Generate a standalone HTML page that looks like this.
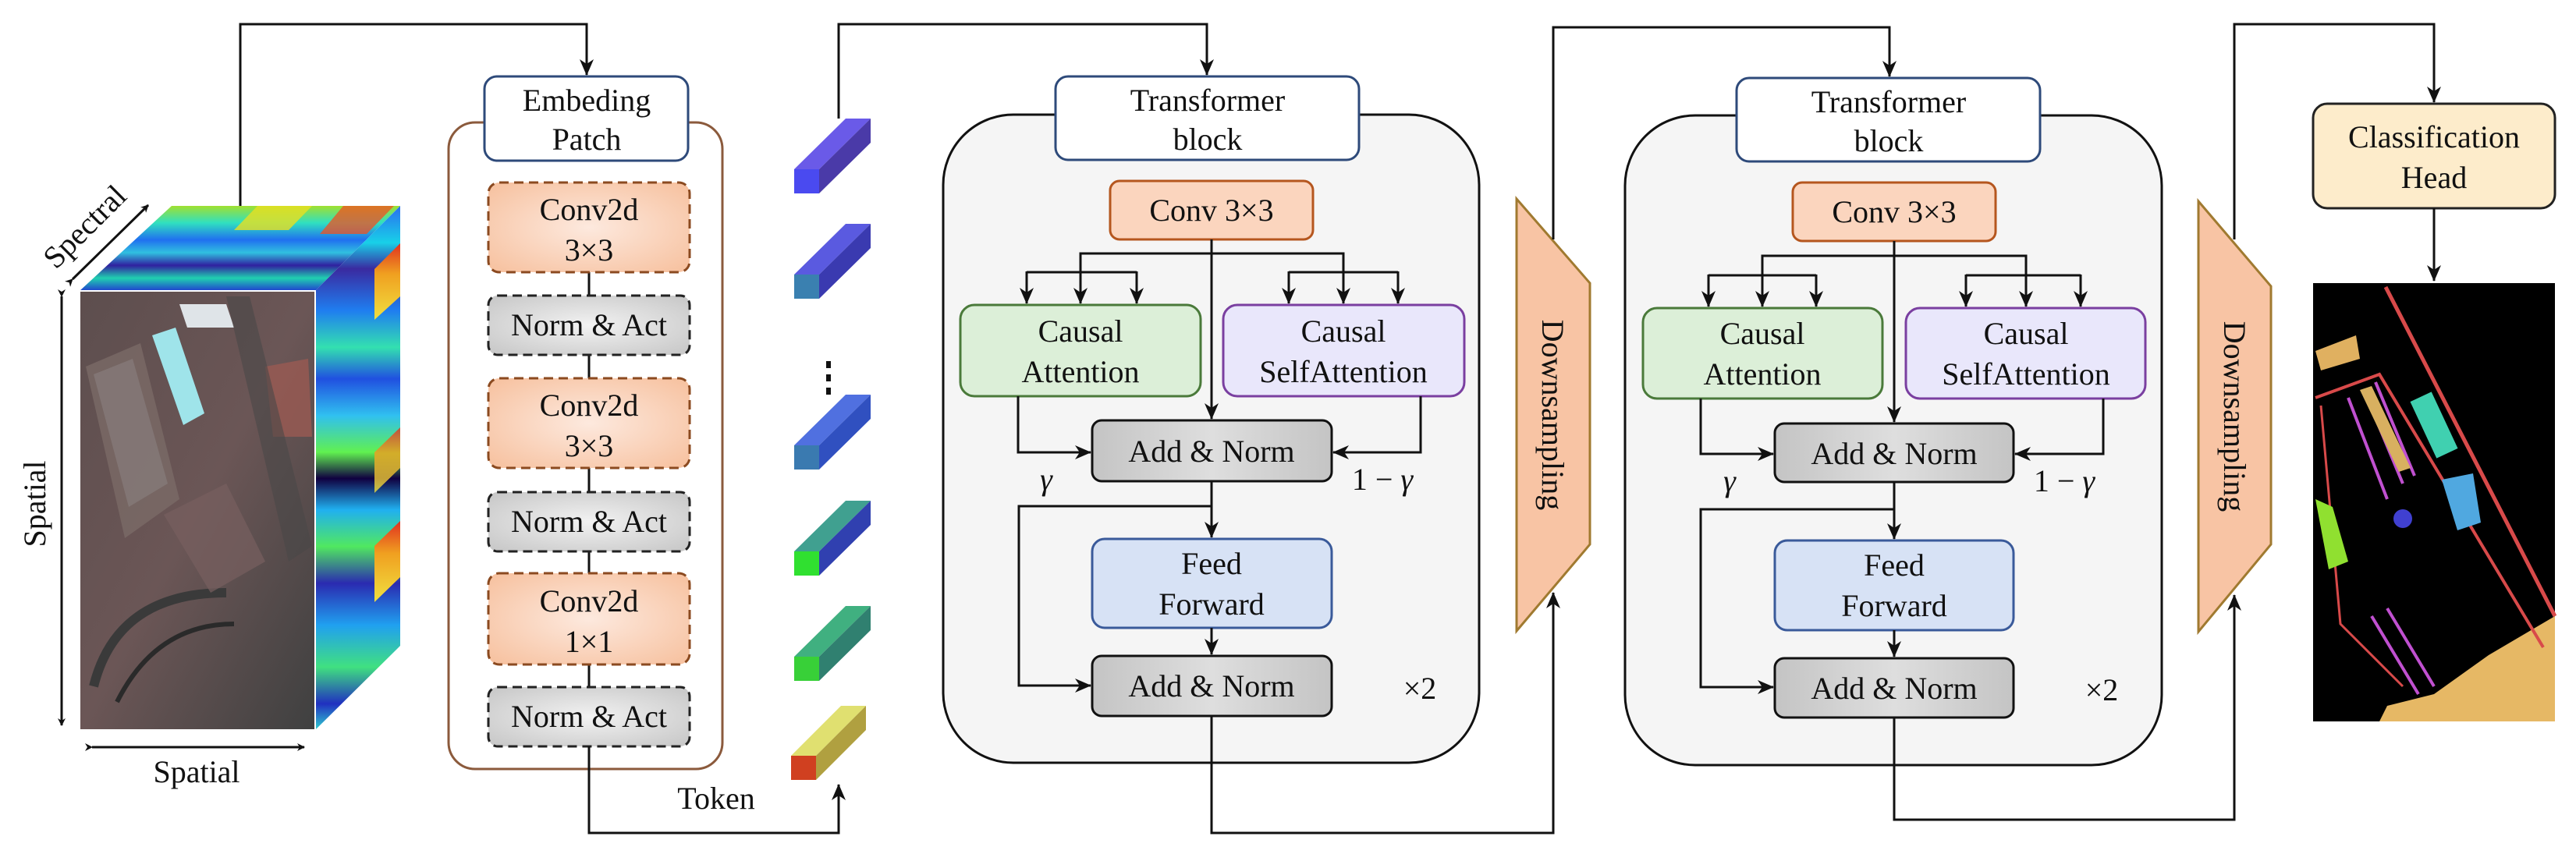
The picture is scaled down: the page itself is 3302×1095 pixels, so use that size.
<!DOCTYPE html>
<html><head><meta charset="utf-8"><style>
html,body{margin:0;padding:0;background:#fff;}
svg{display:block;font-family:"Liberation Serif","Times New Roman",Times,"DejaVu Serif",serif;}
svg text{font-family:"Liberation Serif","Times New Roman",Times,"DejaVu Serif",serif !important;fill:#111;}
</style></head><body>
<svg width="3302" height="1095" viewBox="0 0 3302 1095" xmlns="http://www.w3.org/2000/svg" font-family="'Liberation Serif','Times New Roman',Times,'DejaVu Serif',serif">
<defs>
<marker id="ar" markerWidth="10" markerHeight="10" refX="9" refY="5" orient="auto" markerUnits="userSpaceOnUse" viewBox="0 0 10 10">
<path d="M0,0 L10,5 L0,10 L3,5 z" fill="#111"/></marker>
<marker id="ar2" markerWidth="22" markerHeight="22" refX="20" refY="11" orient="auto" markerUnits="userSpaceOnUse" viewBox="0 0 22 22">
<path d="M0,2 L21,11 L0,20 L6,11 z" fill="#111"/></marker>
<radialGradient id="peach" cx="50%" cy="50%" r="65%"><stop offset="0" stop-color="#fde9de"/><stop offset="1" stop-color="#f7c3a2"/></radialGradient>
<radialGradient id="grayd" cx="50%" cy="50%" r="65%"><stop offset="0" stop-color="#f2f2f2"/><stop offset="1" stop-color="#c9c9c9"/></radialGradient>
<linearGradient id="addn" x1="0" y1="0" x2="1" y2="0"><stop offset="0" stop-color="#c4c4c4"/><stop offset="0.5" stop-color="#dedede"/><stop offset="1" stop-color="#c4c4c4"/></linearGradient>
<linearGradient id="jetR" x1="0" y1="0" x2="0" y2="1">
<stop offset="0" stop-color="#2a6ef0"/><stop offset="0.07" stop-color="#18d0e8"/><stop offset="0.12" stop-color="#3a2aa0"/><stop offset="0.2" stop-color="#1f7ef0"/><stop offset="0.27" stop-color="#33e0b0"/><stop offset="0.33" stop-color="#2050e0"/><stop offset="0.4" stop-color="#30c0f0"/><stop offset="0.47" stop-color="#60f050"/><stop offset="0.52" stop-color="#100040"/><stop offset="0.58" stop-color="#20b0f0"/><stop offset="0.65" stop-color="#50e860"/><stop offset="0.72" stop-color="#2a2ab0"/><stop offset="0.8" stop-color="#20a0f0"/><stop offset="0.88" stop-color="#40e080"/><stop offset="0.95" stop-color="#2030c0"/><stop offset="1" stop-color="#30d0d0"/></linearGradient>
<linearGradient id="jetT" x1="0" y1="0" x2="0" y2="1">
<stop offset="0" stop-color="#a0e030"/><stop offset="0.2" stop-color="#30e0c0"/><stop offset="0.4" stop-color="#2070f0"/><stop offset="0.55" stop-color="#30c0e0"/><stop offset="0.7" stop-color="#3020a0"/><stop offset="0.85" stop-color="#20d0b0"/><stop offset="1" stop-color="#2040d0"/></linearGradient>
<linearGradient id="hot" x1="0" y1="0" x2="0" y2="1"><stop offset="0" stop-color="#e03020"/><stop offset="0.4" stop-color="#f0a020"/><stop offset="1" stop-color="#f0e040"/></linearGradient>
<linearGradient id="photo" x1="0" y1="0" x2="1" y2="1"><stop offset="0" stop-color="#5d4e4e"/><stop offset="0.5" stop-color="#6b5656"/><stop offset="1" stop-color="#3f4040"/></linearGradient>
</defs>

<polygon points="102,373 404,373 513,264 220,264" fill="url(#jetT)"/>
<polygon points="330,264 400,264 370,295 300,295" fill="#e8e020" opacity="0.8"/>
<polygon points="440,264 505,264 470,300 410,300" fill="#f05020" opacity="0.75"/>
<polygon points="404,373 513,264 513,828 404,936" fill="url(#jetR)"/>
<polygon points="480,345 513,312 513,380 480,410" fill="url(#hot)"/>
<polygon points="480,580 513,548 513,600 480,632" fill="url(#hot)" opacity="0.8"/>
<polygon points="480,700 513,668 513,740 480,772" fill="url(#hot)"/>
<rect x="102" y="373" width="302" height="563" fill="url(#photo)"/>
<polygon points="110,470 180,440 230,640 160,690" fill="#7a6a66" opacity="0.8"/>
<polygon points="120,480 170,460 215,620 165,650" fill="#8a8080" opacity="0.6"/>
<polygon points="195,430 225,420 262,530 235,545" fill="#9fe4ea"/>
<polygon points="340,470 395,460 400,560 350,560" fill="#9a5a52" opacity="0.8"/>
<polygon points="230,390 290,390 300,420 240,420" fill="#dfe4e8"/>
<path d="M120,880 Q150,760 290,760" stroke="#3a3a3a" stroke-width="12" fill="none"/>
<path d="M150,900 Q200,800 300,800" stroke="#2a2a2a" stroke-width="6" fill="none"/>
<polygon points="210,660 290,620 340,720 270,760" fill="#786060" opacity="0.7"/>
<polygon points="290,380 320,380 400,700 370,720" fill="#4a4848" opacity="0.6"/>
<rect x="102" y="373" width="302" height="563" fill="none" stroke="#fff" stroke-width="2"/>

<line x1="79" y1="380" x2="79" y2="930" stroke="#111" stroke-width="3" marker-start="url(#ar)" marker-end="url(#ar)"/>
<text x="0" y="0" font-size="40" text-anchor="middle" transform="translate(58,646) rotate(-90)">Spatial</text>
<line x1="118" y1="958" x2="390" y2="958" stroke="#111" stroke-width="3" marker-start="url(#ar)" marker-end="url(#ar)"/>
<text x="252" y="1003" font-size="40" text-anchor="middle">Spatial</text>
<line x1="93" y1="358" x2="190" y2="263" stroke="#111" stroke-width="3" marker-start="url(#ar)" marker-end="url(#ar)"/>
<text x="0" y="0" font-size="40" text-anchor="middle" transform="translate(118,300) rotate(-45)">Spectral</text>

<polyline points="308,264 308,31 752,31 752,96" fill="none" stroke="#111" stroke-width="3" marker-end="url(#ar2)"/>

<rect x="575" y="157" width="351" height="829" rx="34" fill="#fff" stroke="#8b5a3c" stroke-width="3"/>
<rect x="621" y="98" width="261" height="108" rx="16" fill="#fff" stroke="#2e4a7a" stroke-width="3"/>
<text x="752" y="142" font-size="40" text-anchor="middle">Embeding</text>
<text x="752" y="192" font-size="40" text-anchor="middle">Patch</text>
<line x1="755" y1="349" x2="755" y2="881" stroke="#111" stroke-width="3"/>
<rect x="626" y="234" width="258" height="115" rx="14" fill="url(#peach)" stroke="#8b4a20" stroke-width="3" stroke-dasharray="12,7"/>
<text x="755" y="282" font-size="40" text-anchor="middle">Conv2d</text>
<text x="755" y="334" font-size="40" text-anchor="middle">3×3</text>
<rect x="626" y="379" width="258" height="76" rx="12" fill="url(#grayd)" stroke="#222" stroke-width="3" stroke-dasharray="12,7"/>
<text x="755" y="430" font-size="40" text-anchor="middle">Norm &amp; Act</text>
<rect x="626" y="485" width="258" height="115" rx="14" fill="url(#peach)" stroke="#8b4a20" stroke-width="3" stroke-dasharray="12,7"/>
<text x="755" y="533" font-size="40" text-anchor="middle">Conv2d</text>
<text x="755" y="585" font-size="40" text-anchor="middle">3×3</text>
<rect x="626" y="631" width="258" height="76" rx="12" fill="url(#grayd)" stroke="#222" stroke-width="3" stroke-dasharray="12,7"/>
<text x="755" y="682" font-size="40" text-anchor="middle">Norm &amp; Act</text>
<rect x="626" y="735" width="258" height="117" rx="14" fill="url(#peach)" stroke="#8b4a20" stroke-width="3" stroke-dasharray="12,7"/>
<text x="755" y="784" font-size="40" text-anchor="middle">Conv2d</text>
<text x="755" y="836" font-size="40" text-anchor="middle">1×1</text>
<rect x="626" y="881" width="258" height="76" rx="12" fill="url(#grayd)" stroke="#222" stroke-width="3" stroke-dasharray="12,7"/>
<text x="755" y="932" font-size="40" text-anchor="middle">Norm &amp; Act</text>
<polyline points="755,957 755,1068 1075,1068 1075,1006" fill="none" stroke="#111" stroke-width="3" marker-end="url(#ar2)"/>
<text x="918" y="1037" font-size="40" text-anchor="middle">Token</text>

<g>
<polygon points="1018,217 1050,217 1116,152 1084,152" fill="#6a5ae8"/><polygon points="1050,217 1116,152 1116,183 1050,248" fill="#4a3aa8"/><rect x="1018" y="217" width="32" height="31" fill="#4a4af0"/>
<polygon points="1018,352 1050,352 1116,287 1084,287" fill="#5a5ae0"/><polygon points="1050,352 1116,287 1116,318 1050,383" fill="#3a3ab0"/><rect x="1018" y="352" width="32" height="31" fill="#3a80b0"/>
<polygon points="1018,571 1050,571 1116,506 1084,506" fill="#5070e0"/><polygon points="1050,571 1116,506 1116,537 1050,602" fill="#3050c0"/><rect x="1018" y="571" width="32" height="31" fill="#3a7ab0"/>
<polygon points="1018,707 1050,707 1116,642 1084,642" fill="#40a090"/><polygon points="1050,707 1116,642 1116,673 1050,738" fill="#3040b0"/><rect x="1018" y="707" width="32" height="31" fill="#30e030"/>
<polygon points="1018,842 1050,842 1116,777 1084,777" fill="#40b080"/><polygon points="1050,842 1116,777 1116,808 1050,873" fill="#308070"/><rect x="1018" y="842" width="32" height="31" fill="#38d038"/>
<polygon points="1014,969 1046,969 1110,905 1078,905" fill="#e0e070"/><polygon points="1046,969 1110,905 1110,936 1046,1000" fill="#b0a040"/><rect x="1014" y="969" width="32" height="31" fill="#d04020"/>
<rect x="1059" y="463" width="6" height="9" fill="#111"/><rect x="1059" y="480" width="6" height="9" fill="#111"/><rect x="1059" y="497" width="6" height="9" fill="#111"/>
</g>
<polyline points="1075,152 1075,31 1547,31 1547,96" fill="none" stroke="#111" stroke-width="3" marker-end="url(#ar2)"/>

<g>
<rect x="1209" y="147" width="687" height="831" rx="90" fill="#f5f5f5" stroke="#111" stroke-width="3"/>
<rect x="1353" y="98" width="389" height="107" rx="16" fill="#fff" stroke="#2e4a7a" stroke-width="3"/>
<text x="1548" y="142" font-size="40" text-anchor="middle">Transformer</text>
<text x="1548" y="192" font-size="40" text-anchor="middle">block</text>
<rect x="1423" y="232" width="260" height="75" rx="12" fill="#fbd5be" stroke="#b5561e" stroke-width="3"/>
<text x="1553" y="283" font-size="40" text-anchor="middle">Conv 3×3</text>
<line x1="1553" y1="307" x2="1553" y2="537" stroke="#111" stroke-width="3" marker-end="url(#ar2)"/>
<polyline points="1385,349 1385,325 1722,325 1722,349" fill="none" stroke="#111" stroke-width="3"/>
<line x1="1316" y1="349" x2="1457" y2="349" stroke="#111" stroke-width="3"/>
<line x1="1652" y1="349" x2="1792" y2="349" stroke="#111" stroke-width="3"/>
<line x1="1316" y1="348" x2="1316" y2="389" stroke="#111" stroke-width="3" marker-end="url(#ar2)"/>
<line x1="1385" y1="348" x2="1385" y2="389" stroke="#111" stroke-width="3" marker-end="url(#ar2)"/>
<line x1="1457" y1="348" x2="1457" y2="389" stroke="#111" stroke-width="3" marker-end="url(#ar2)"/>
<line x1="1652" y1="348" x2="1652" y2="389" stroke="#111" stroke-width="3" marker-end="url(#ar2)"/>
<line x1="1722" y1="348" x2="1722" y2="389" stroke="#111" stroke-width="3" marker-end="url(#ar2)"/>
<line x1="1792" y1="348" x2="1792" y2="389" stroke="#111" stroke-width="3" marker-end="url(#ar2)"/>
<rect x="1231" y="391" width="308" height="117" rx="18" fill="#dcefd8" stroke="#4a7a3a" stroke-width="3"/>
<text x="1385" y="438" font-size="40" text-anchor="middle">Causal</text>
<text x="1385" y="490" font-size="40" text-anchor="middle">Attention</text>
<rect x="1568" y="391" width="309" height="117" rx="18" fill="#e9e7fb" stroke="#7a3fa0" stroke-width="3"/>
<text x="1722" y="438" font-size="40" text-anchor="middle">Causal</text>
<text x="1722" y="490" font-size="40" text-anchor="middle">SelfAttention</text>
<polyline points="1305,508 1305,580 1398,580" fill="none" stroke="#111" stroke-width="3" marker-end="url(#ar2)"/>
<polyline points="1821,508 1821,580 1709,580" fill="none" stroke="#111" stroke-width="3" marker-end="url(#ar2)"/>
<rect x="1400" y="539" width="307" height="78" rx="12" fill="url(#addn)" stroke="#111" stroke-width="3"/>
<text x="1553" y="592" font-size="40" text-anchor="middle">Add &amp; Norm</text>
<text x="1341" y="628" font-size="40" font-style="italic" text-anchor="middle">γ</text>
<text x="1772" y="628" font-size="40" text-anchor="middle">1 − <tspan font-style="italic">γ</tspan></text>
<line x1="1553" y1="617" x2="1553" y2="689" stroke="#111" stroke-width="3" marker-end="url(#ar2)"/>
<polyline points="1553,649 1306,649 1306,879 1398,879" fill="none" stroke="#111" stroke-width="3" marker-end="url(#ar2)"/>
<rect x="1400" y="691" width="307" height="114" rx="16" fill="#d7e2f5" stroke="#3a5a9a" stroke-width="3"/>
<text x="1553" y="736" font-size="40" text-anchor="middle">Feed</text>
<text x="1553" y="788" font-size="40" text-anchor="middle">Forward</text>
<line x1="1553" y1="805" x2="1553" y2="839" stroke="#111" stroke-width="3" marker-end="url(#ar2)"/>
<rect x="1400" y="841" width="307" height="77" rx="12" fill="url(#addn)" stroke="#111" stroke-width="3"/>
<text x="1553" y="893" font-size="40" text-anchor="middle">Add &amp; Norm</text>
<text x="1820" y="896" font-size="40" text-anchor="middle">×2</text>
</g>
<polyline points="1553,918 1553,1068 1991,1068 1991,760" fill="none" stroke="#111" stroke-width="3" marker-end="url(#ar2)"/>

<polygon points="1944,255 2038,363 2038,698 1944,809" fill="#f8c4a4" stroke="#a07a30" stroke-width="3"/>
<text x="0" y="0" font-size="40" text-anchor="middle" transform="translate(1977,532) rotate(90)">Downsampling</text>
<polyline points="1991,307 1991,35 2422,35 2422,98" fill="none" stroke="#111" stroke-width="3" marker-end="url(#ar2)"/>

<g>
<rect x="2083" y="148" width="688" height="833" rx="90" fill="#f5f5f5" stroke="#111" stroke-width="3"/>
<rect x="2226" y="100" width="389" height="107" rx="16" fill="#fff" stroke="#2e4a7a" stroke-width="3"/>
<text x="2421" y="144" font-size="40" text-anchor="middle">Transformer</text>
<text x="2421" y="194" font-size="40" text-anchor="middle">block</text>
<rect x="2298" y="234" width="260" height="75" rx="12" fill="#fbd5be" stroke="#b5561e" stroke-width="3"/>
<text x="2428" y="285" font-size="40" text-anchor="middle">Conv 3×3</text>
<line x1="2428" y1="309" x2="2428" y2="541" stroke="#111" stroke-width="3" marker-end="url(#ar2)"/>
<polyline points="2259,353 2259,328 2597,328 2597,353" fill="none" stroke="#111" stroke-width="3"/>
<line x1="2190" y1="353" x2="2328" y2="353" stroke="#111" stroke-width="3"/>
<line x1="2520" y1="353" x2="2667" y2="353" stroke="#111" stroke-width="3"/>
<line x1="2190" y1="352" x2="2190" y2="393" stroke="#111" stroke-width="3" marker-end="url(#ar2)"/>
<line x1="2259" y1="352" x2="2259" y2="393" stroke="#111" stroke-width="3" marker-end="url(#ar2)"/>
<line x1="2328" y1="352" x2="2328" y2="393" stroke="#111" stroke-width="3" marker-end="url(#ar2)"/>
<line x1="2520" y1="352" x2="2520" y2="393" stroke="#111" stroke-width="3" marker-end="url(#ar2)"/>
<line x1="2597" y1="352" x2="2597" y2="393" stroke="#111" stroke-width="3" marker-end="url(#ar2)"/>
<line x1="2667" y1="352" x2="2667" y2="393" stroke="#111" stroke-width="3" marker-end="url(#ar2)"/>
<rect x="2106" y="395" width="307" height="116" rx="18" fill="#dcefd8" stroke="#4a7a3a" stroke-width="3"/>
<text x="2259" y="441" font-size="40" text-anchor="middle">Causal</text>
<text x="2259" y="493" font-size="40" text-anchor="middle">Attention</text>
<rect x="2443" y="395" width="307" height="116" rx="18" fill="#e9e7fb" stroke="#7a3fa0" stroke-width="3"/>
<text x="2597" y="441" font-size="40" text-anchor="middle">Causal</text>
<text x="2597" y="493" font-size="40" text-anchor="middle">SelfAttention</text>
<polyline points="2180,511 2180,582 2273,582" fill="none" stroke="#111" stroke-width="3" marker-end="url(#ar2)"/>
<polyline points="2696,511 2696,582 2583,582" fill="none" stroke="#111" stroke-width="3" marker-end="url(#ar2)"/>
<rect x="2275" y="543" width="306" height="75" rx="12" fill="url(#addn)" stroke="#111" stroke-width="3"/>
<text x="2428" y="595" font-size="40" text-anchor="middle">Add &amp; Norm</text>
<text x="2217" y="630" font-size="40" font-style="italic" text-anchor="middle">γ</text>
<text x="2646" y="630" font-size="40" text-anchor="middle">1 − <tspan font-style="italic">γ</tspan></text>
<line x1="2428" y1="618" x2="2428" y2="691" stroke="#111" stroke-width="3" marker-end="url(#ar2)"/>
<polyline points="2428,653 2180,653 2180,881 2273,881" fill="none" stroke="#111" stroke-width="3" marker-end="url(#ar2)"/>
<rect x="2275" y="693" width="306" height="115" rx="16" fill="#d7e2f5" stroke="#3a5a9a" stroke-width="3"/>
<text x="2428" y="738" font-size="40" text-anchor="middle">Feed</text>
<text x="2428" y="790" font-size="40" text-anchor="middle">Forward</text>
<line x1="2428" y1="808" x2="2428" y2="842" stroke="#111" stroke-width="3" marker-end="url(#ar2)"/>
<rect x="2275" y="844" width="306" height="76" rx="12" fill="url(#addn)" stroke="#111" stroke-width="3"/>
<text x="2428" y="896" font-size="40" text-anchor="middle">Add &amp; Norm</text>
<text x="2694" y="898" font-size="40" text-anchor="middle">×2</text>
</g>
<polyline points="2428,920 2428,1051 2864,1051 2864,763" fill="none" stroke="#111" stroke-width="3" marker-end="url(#ar2)"/>

<polygon points="2818,258 2911,367 2911,698 2818,810" fill="#f8c4a4" stroke="#a07a30" stroke-width="3"/>
<text x="0" y="0" font-size="40" text-anchor="middle" transform="translate(2851,534) rotate(90)">Downsampling</text>
<polyline points="2864,307 2864,31 3120,31 3120,131" fill="none" stroke="#111" stroke-width="3" marker-end="url(#ar2)"/>

<rect x="2965" y="133" width="310" height="134" rx="18" fill="#fdeccb" stroke="#222" stroke-width="3"/>
<text x="3120" y="189" font-size="40" text-anchor="middle">Classification</text>
<text x="3120" y="241" font-size="40" text-anchor="middle">Head</text>
<line x1="3120" y1="267" x2="3120" y2="360" stroke="#111" stroke-width="3" marker-end="url(#ar2)"/>

<rect x="2965" y="363" width="310" height="562" fill="#000"/>
<polygon points="3050,925 3275,925 3275,790 3190,840 3120,890 3060,905" fill="#e6b865"/>
<polygon points="2968,450 3020,430 3025,460 2975,475" fill="#e0b060"/>
<path d="M3058,368 L3275,790" stroke="#d84a4a" stroke-width="5" fill="none"/>
<path d="M2968,510 L3050,480 L3260,830" stroke="#d84a4a" stroke-width="4" fill="none"/>
<path d="M2975,520 L3000,800 L3080,880" stroke="#d84a4a" stroke-width="3" fill="none"/>
<line x1="3030" y1="500" x2="3080" y2="620" stroke="#c050d0" stroke-width="4"/>
<line x1="3010" y1="510" x2="3060" y2="640" stroke="#c050d0" stroke-width="4"/>
<line x1="3045" y1="490" x2="3095" y2="610" stroke="#c050d0" stroke-width="4"/>
<line x1="3060" y1="780" x2="3120" y2="880" stroke="#c050d0" stroke-width="4"/>
<line x1="3040" y1="790" x2="3100" y2="890" stroke="#c050d0" stroke-width="4"/>
<polygon points="3025,500 3040,495 3090,600 3075,605" fill="#d8b060"/>
<rect x="3105" y="505" width="30" height="80" fill="#40d0b0" transform="rotate(-25 3120 545)"/>
<polygon points="3130,615 3170,607 3180,670 3150,680" fill="#50a8e0"/>
<circle cx="3080" cy="665" r="12" fill="#4040d0"/>
<polygon points="2968,640 2990,650 3010,720 2985,730" fill="#90e030"/>
</svg>
</body></html>
